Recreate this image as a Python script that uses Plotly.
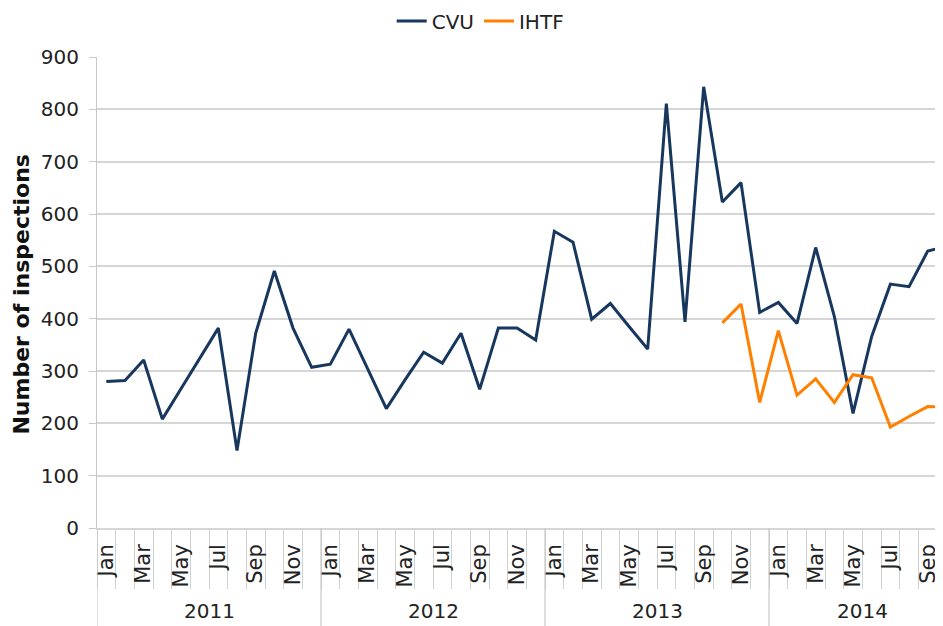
import plotly.graph_objects as go

# ---- data ----
years = ["2011", "2012", "2013", "2014"]
month_names = ["Jan", "Feb", "Mar", "Apr", "May", "Jun",
               "Jul", "Aug", "Sep", "Oct", "Nov", "Dec"]
months_per_year = [12, 12, 12, 10]

cvu = [280, 282, 321, 208, 266, 324, 382, 148, 372, 491, 382, 307,
       313, 380, 305, 228, 283, 336, 315, 372, 265, 382, 382, 359,
       567, 546, 399, 429, 385, 342, 811, 394, 843, 623, 660, 412,
       431, 391, 536, 404, 219, 366, 466, 461, 529, 538]

# IHTF starts Oct 2013
ihtf_start = ("2013", "Oct")
ihtf = [392, 428, 240, 377, 254, 285, 240, 293, 287, 193, 213, 232, 231]

y_ticks = [0, 100, 200, 300, 400, 500, 600, 700, 800, 900]

# ---- build category positions ----
cats = []
for yr, n in zip(years, months_per_year):
    for m in month_names[:n]:
        cats.append((yr, m))
idx = list(range(len(cats)))
start = cats.index(ihtf_start)
ihtf_x = idx[start:start + len(ihtf)]

label_vals = [i for i, (yr, m) in enumerate(cats) if month_names.index(m) % 2 == 0]
label_text = [cats[i][1] for i in label_vals]
boundaries = [i - 0.5 for i in idx] + [idx[-1] + 0.5]

FONT = "DejaVu Sans"
GRID = "#d6d6d6"

fig = go.Figure()
fig.add_trace(go.Scatter(x=idx, y=cvu, mode="lines", name="CVU",
                         line=dict(color="#17375e", width=3)))
fig.add_trace(go.Scatter(x=ihtf_x, y=ihtf, mode="lines", name="IHTF",
                         line=dict(color="#ff8000", width=3)))

# year separators and labels
year_start = 0
for yr, n in zip(years, months_per_year):
    fig.add_shape(type="line", xref="x", yref="paper",
                  x0=year_start - 0.5, x1=year_start - 0.5, y0=0, y1=-0.22,
                  line=dict(color="#c8c8c8", width=1.2))
    fig.add_annotation(x=year_start + (n - 1) / 2, y=-0.177, xref="x", yref="paper",
                       text=yr, showarrow=False, yanchor="middle", borderpad=0,
                       font=dict(family=FONT, size=20, color="#222"))
    year_start += n

fig.add_annotation(x=-0.089, y=0.495, xref="paper", yref="paper",
                   text="<b>Number of inspections</b>", showarrow=False,
                   textangle=-90, xanchor="center", yanchor="middle",
                   font=dict(family=FONT, size=22, color="#111"))

# The page body has an 8px margin; size the figure so it ends at the window edge.
fig.update_layout(
    width=935, height=618,
    margin=dict(l=89, r=0, t=49, b=98),
    paper_bgcolor="white", plot_bgcolor="white",
    showlegend=True,
    legend=dict(orientation="h", xref="container", yref="container",
                x=0.505, y=0.979, xanchor="center", yanchor="middle",
                font=dict(family=FONT, size=20, color="#222"),
                itemwidth=30, tracegroupgap=0),
    xaxis=dict(range=[-0.5, 44.82], tickmode="array", tickvals=label_vals,
               ticktext=label_text, tickangle=-90, ticks="", showgrid=False,
               zeroline=False, showline=True, linecolor=GRID, linewidth=1.5,
               ticklabelstandoff=6,
               tickfont=dict(family=FONT, size=21, color="#222"),
               minor=dict(tickmode="array", tickvals=boundaries, ticks="outside",
                          ticklen=59, tickcolor="#d0d0d0", tickwidth=1.2,
                          showgrid=False)),
    yaxis=dict(range=[0, 900], tickmode="array", tickvals=y_ticks,
               showgrid=True, gridcolor=GRID, gridwidth=1.5,
               zeroline=False, showline=True, linecolor="#c8c8c8", linewidth=1.2,
               ticks="outside", ticklen=7, tickcolor="#c8c8c8",
               ticklabelstandoff=6,
               tickfont=dict(family=FONT, size=20, color="#222")),
)

fig.write_html("out.html")
